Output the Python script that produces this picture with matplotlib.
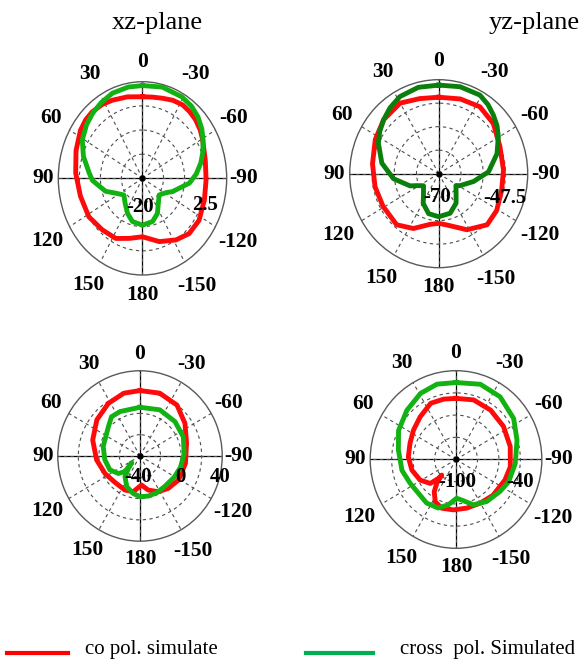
import numpy as np
import matplotlib.pyplot as plt
from matplotlib.lines import Line2D

# angles in degrees, counter-clockwise from the top (0 = broadside)
# xz-plane, top panel
xz1_co_ang = [0, 12, 24, 32, 41, 48, 56, 70, 86, 104, 122, 138, 153, 166, 180, 197, 212, 224, 237, 253, 269, 284, 299, 306, 314, 321, 328, 336, 344, 352]
xz1_co_db = [-1.0, -0.6, -0.1, 0.3, 0.5, 0.4, 0.0, -1.1, -2.1, -2.9, -3.1, -3.9, -4.3, -5.6, -6.4, -4.6, -3.1, -2.1, -2.0, -2.7, -3.0, -2.7, -1.6, -0.9, -0.3, 0.0, 0.2, -0.1, -0.6, -0.9]
xz1_cx_ang = [0, 10, 22, 32, 41, 50, 61, 72, 85, 92, 97, 107, 116, 128, 141, 154, 165, 180, 195, 206, 216, 229, 242, 249, 265, 274, 283, 291, 299, 306, 314, 322, 331, 346]
xz1_cx_db = [1.6, 1.6, 1.4, 0.8, 0.2, -0.5, -1.6, -3.4, -5.7, -6.6, -7.9, -9.7, -12.1, -13.7, -12.6, -10.9, -9.6, -9.1, -9.6, -10.9, -12.8, -14.1, -12.9, -11.4, -7.4, -5.6, -4.0, -2.7, -1.5, -0.4, 0.6, 1.3, 1.7, 1.9]

# yz-plane, top panel
yz1_co_ang = [0, 15, 30, 47, 63, 82, 101, 119, 139, 154, 170, 180, 189, 208, 225, 239, 256, 273, 293, 311, 327, 343]
yz1_co_db = [-51.7, -51.4, -50.5, -51.0, -52.0, -53.1, -53.6, -53.9, -53.8, -55.4, -57.7, -58.1, -57.6, -54.8, -52.7, -52.9, -53.6, -53.6, -53.2, -51.7, -50.9, -51.3]
yz1_cx_ang = [0, 14, 28, 38, 47, 56, 64.5, 80, 96, 112, 117, 127, 143, 151, 165, 180, 197, 212, 221, 237, 242, 258, 272, 288, 300.5, 308, 315.5, 323, 331, 345.5]
yz1_cx_db = [-48.8, -48.7, -49.1, -50.0, -51.0, -52.0, -53.1, -55.4, -58.5, -62.2, -63.7, -65.2, -63.6, -61.9, -60.1, -59.7, -60.1, -61.7, -63.3, -64.8, -63.9, -61.0, -57.4, -54.5, -52.5, -51.3, -50.3, -49.3, -48.5, -48.5]

# xz-plane, bottom panel
xz2_co_ang = [0, 15, 32, 51, 72, 95, 116, 135, 155, 169, 183, 194, 208, 222, 239, 261, 285, 305, 323, 342]
xz2_co_db = [21.4, 21.0, 18.2, 14.0, 8.4, 2.4, -2.2, -5.2, -4.8, -5.8, -12.7, -7.0, -2.0, 1.0, 3.8, 4.8, 6.9, 13.4, 19.8, 22.0]
xz2_cx_ang = [0, 25, 37, 48, 76, 96, 114, 128, 135, 128, 136, 143, 156, 169, 180, 192, 205, 220, 239, 255, 273, 293, 313.5, 336]
xz2_cx_db = [5.7, 6.0, 6.1, 1.3, -3.1, -5.6, -7.9, -13.3, -19.2, -29.8, -23.8, -15.7, -8.4, -4.2, -1.8, -1.5, -1.8, -2.6, -1.2, 0.8, 3.0, 5.8, 6.9, 7.4]

# yz-plane, bottom panel
yz2_co_ang = [0, 12, 25, 41, 56, 71, 87, 103, 119, 132, 136, 136.5, 140, 145, 153, 163, 177, 193, 210, 227, 248, 262.5, 283, 304, 324, 343]
yz2_co_db = [-58.7, -58.3, -58.1, -61.8, -64.2, -66.0, -66.6, -68.3, -71.3, -75.8, -82.3, -85.5, -79.1, -73.4, -68.0, -65.6, -65.9, -66.3, -66.0, -64.6, -63.1, -61.7, -61.1, -60.0, -58.8, -57.9]
yz2_cx_ang = [0, 14.6, 29, 46, 64, 81, 101, 116.5, 131, 145, 159, 170, 181, 190.4, 201.5, 217, 235, 248, 256.5, 266, 287, 304.5, 324, 341.5]
yz2_cx_db = [-48.0, -47.4, -48.9, -52.2, -55.3, -59.2, -61.5, -64.1, -65.2, -64.1, -64.9, -68.9, -73.8, -71.7, -67.1, -64.4, -62.4, -60.2, -60.0, -58.5, -55.4, -51.1, -47.6, -46.4]

theta_ticks = [0, 30, 60, 90, 120, 150, 180, 210, 240, 270, 300, 330]
theta_labels = ['0', '30', '60', '90', '120', '150', '180', '-150', '-120', '-90', '-60', '-30']
# how far out the angle labels sit, as a fraction of the outer ring
label_out = [1.2, 1.25, 1.25, 1.18, 1.3, 1.28, 1.21, 1.29, 1.31, 1.2, 1.25, 1.25]

RED = '#ff0a0a'
GREEN = '#12b212'
DKGREEN = '#0b7f0b'

fig = plt.figure(figsize=(5.79, 6.59), dpi=100)


def closed(ang, db):
    a = np.r_[ang, ang[0] + 360]
    d = np.r_[db, db[0]]
    return np.deg2rad(a), d


def polar_panel(rect, rlim, curves, rlabels):
    ax = fig.add_axes(rect, projection='polar')
    ax.set_aspect('auto')
    ax.set_theta_zero_location('N')
    ax.set_theta_direction(1)
    ax.set_ylim(rlim)
    span = rlim[1] - rlim[0]
    ax.set_yticks(np.linspace(rlim[0], rlim[1], 5)[1:-1])
    ax.set_yticklabels([])
    ax.set_xticks(np.deg2rad(theta_ticks))
    ax.set_xticklabels([])
    for t, s, f in zip(theta_ticks, theta_labels, label_out):
        ax.text(np.deg2rad(t), rlim[0] + f * span, s, ha='center', va='center',
                family='Liberation Serif', weight='bold', fontsize=15.5, clip_on=False)
    ax.grid(True, ls=(0, (3, 3)), color='0.3', lw=0.8)
    ax.spines['polar'].set_color('0.35')
    ax.spines['polar'].set_linewidth(1)
    for t in [0, 90, 180, 270]:
        ax.axvline(np.deg2rad(t), color='k', lw=0.9, zorder=1.5)
    for ang, db, c in curves:
        th, r = closed(ang, db)
        ax.plot(th, r, color=c, lw=3.5, solid_joinstyle='round', zorder=3)
    ax.plot(0, rlim[0], 'ko', ms=3.5, zorder=4)
    for x, y, s in rlabels:
        ax.text(x, y, s, transform=ax.transAxes, ha='center', va='center',
                family='Liberation Serif', weight='bold', fontsize=15, zorder=5)
    return ax


polar_panel([0.1007, 0.5827, 0.2908, 0.2933], (-20, 2.5),
            [(xz1_co_ang, xz1_co_db, RED), (xz1_cx_ang, xz1_cx_db, GREEN)],
            [(0.485, 0.352, '-20'), (0.87, 0.362, '2.5')])
polar_panel([0.604, 0.5938, 0.3074, 0.2853], (-70, -47.5),
            [(yz1_co_ang, yz1_co_db, RED), (yz1_cx_ang, yz1_cx_db, DKGREEN)],
            [(0.489, 0.378, '-70'), (0.872, 0.369, '-47.5')])
polar_panel([0.0998, 0.1788, 0.284, 0.2586], (-40, 40),
            [(xz2_co_ang, xz2_co_db, RED), (xz2_cx_ang, xz2_cx_db, GREEN)],
            [(0.487, 0.378, '-40'), (0.746, 0.378, '0'), (0.99, 0.378, '40')])
polar_panel([0.6394, 0.168, 0.2964, 0.2695], (-100, -40),
            [(yz2_co_ang, yz2_co_db, RED), (yz2_cx_ang, yz2_cx_db, GREEN)],
            [(0.505, 0.375, '-100'), (0.874, 0.375, '-40')])

fig.text(0.271, 0.956, 'xz-plane', family='Liberation Serif', fontsize=19, ha='center', va='baseline')
fig.text(0.922, 0.956, 'yz-plane', family='Liberation Serif', fontsize=19, ha='center', va='baseline')

# legend at the bottom
fig.add_artist(Line2D([0.012, 0.117], [0.0085, 0.0085], color='#ff0000', lw=3))
fig.text(0.147, 0.008, 'co pol. simulate', family='Liberation Serif', fontsize=15, va='baseline')
fig.add_artist(Line2D([0.528, 0.644], [0.0085, 0.0085], color='#00b050', lw=3))
fig.text(0.691, 0.008, 'cross  pol. Simulated', family='Liberation Serif', fontsize=15, va='baseline')

fig.savefig('out.png', dpi=100)
